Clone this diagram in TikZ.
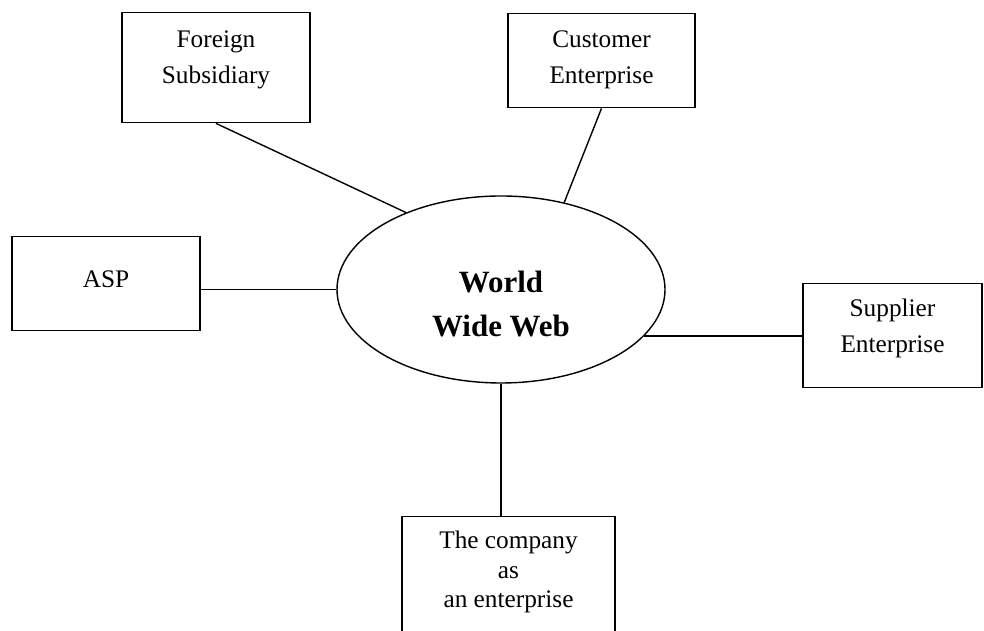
\documentclass[tikz,border=0pt]{standalone}
\usepackage{fontspec}
\setmainfont{Liberation Serif}
\usepackage{tikz}
\usetikzlibrary{positioning,shapes}

\tikzset{
    boxnode/.style={draw, rectangle, line width=1pt, inner ysep=0pt, align=center,
        font=\fontsize{18}{25.6}\selectfont},
    webnode/.style={draw, ellipse, line width=1pt, inner sep=0pt, align=center,
        minimum width=8.2cm, minimum height=4.675cm,
        font=\bfseries\fontsize{22}{32}\selectfont},
    link/.style={line width=1pt}
}

\begin{document}
\begin{tikzpicture}
            \useasboundingbox (0,0) rectangle (24.6,15.775);
            \clip (0,0) rectangle (24.6,15.775);

            \node[webnode, text height=2.375cm, text depth=0cm] (www) at (12.525,8.5375) {World\\Wide Web};

            \node[boxnode, anchor=north, minimum width=4.7cm, text height=1.775cm, text depth=0.975cm]   (fs) at (5.4,15.475)   {Foreign\\Subsidiary};
            \node[boxnode, anchor=north, minimum width=4.675cm, text height=1.75cm, text depth=0.6cm]    (ce) at (15.0375,15.45) {Customer\\Enterprise};
            \node[boxnode, anchor=north, minimum width=4.7cm, text height=1.275cm, text depth=1.075cm]   (asp) at (2.65,9.875)  {ASP};
            \node[boxnode, anchor=north, minimum width=4.475cm, text height=1.725cm, text depth=0.875cm] (se) at (22.3125,8.7)  {Supplier\\Enterprise};
            \node[boxnode, anchor=north, minimum width=5.325cm, text height=2.275cm, text depth=3cm,
                  font=\fontsize{18}{21}\selectfont]                                                     (co) at (12.7125,2.875) {The company\\as\\an enterprise};

            \draw[link] (fs.south) -- (www.141);
            \draw[link] (ce.south) -- (www.54);
            \draw[link] (www.west) -- (www.west -| asp.east);
            \draw[link] (www.-18) -- (www.-18 -| se.west);
            \draw[link] (www.south) -- (www.south |- co.north);

            \end{tikzpicture}
\end{document}
